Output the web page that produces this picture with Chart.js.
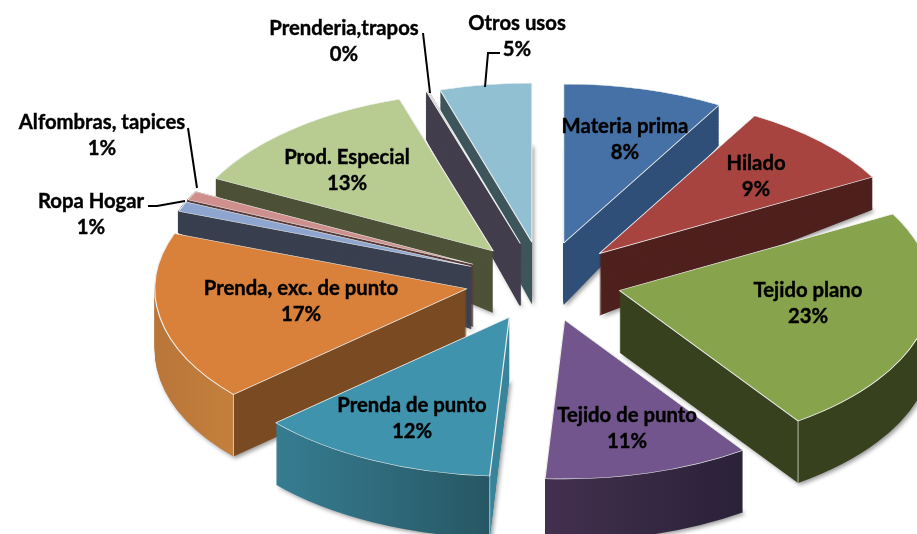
<!DOCTYPE html>
<html>
<head>
<meta charset="utf-8">
<style>body{margin:0;background:#fff}canvas{display:block}</style>
<script src="https://cdn.jsdelivr.net/npm/chart.js@4"></script>
</head>
<body>
<canvas id="pie" width="917" height="534"></canvas>
<script>
var categories = ["Materia prima", "Hilado", "Tejido plano", "Tejido de punto", "Prenda de punto",
    "Prenda, exc. de punto", "Ropa Hogar", "Alfombras, tapices", "Prod. Especial", "Prenderia,trapos", "Otros usos"];
var values = [8.3, 8.7, 23.3, 10.7, 12.45, 17.2, 1, 0.9, 12.6, 0.1, 4.75];
var percentLabels = ["8%", "9%", "23%", "11%", "12%", "17%", "1%", "1%", "13%", "0%", "5%"];

var topColors = ["#4571a6", "#a84440", "#87a34c", "#71558c", "#3f93ad", "#d9803a", "#8ea5cf", "#ce8f8d", "#b8cb91", "#c9c9d0", "#92c0d3"];
var cutColors = ["#2f4f78", "#4f211e", "#37411d", "#43304f", "#38849b", "#7a4a22", "#3a4050", "#5a3c3b", "#4d5238", "#433e4d", "#3d565c"];

// outer wall of the slices that show one: [colour on the left, colour on the right]
var rimColors = {3: ["#43304f", "#2a2138"], 4: ["#367d92", "#275764"], 5: ["#b8763a", "#c47f3c"]};

// back slices tilt their lower face so the wall gets shorter towards the rim
var backShear = [-0.14, -0.107, 0, 0, 0, 0, 0.138, 0.138, 0.16, 0.155, 0.155];

// painter's order, back to front
var drawOrder = [10, 9, 8, 7, 6, 5, 0, 1, 2, 3, 4];

var centerX = 543.5, centerY = 281.5, squash = 0.51, explode = 78, depth = 62, pieRadius = 312;

var labelPos = [[625, 126], [756, 163], [808, 290], [627, 415], [412, 405], [301, 288], [91, 201], [102, 122], [347, 157], [344, 28], [517, 23]];
var leaders = [
    [[500, 53], [488, 53], [485, 87]],
    [[423, 33], [430, 93]],
    [[188, 128], [197, 188]],
    [[148, 206], [157, 206], [185, 201]]
];

function sideFill(ctx, arc, i) {
    var rim = rimColors[i];
    if (!rim && i != 2) return cutColors[i];
    var xStart = arc.x + Math.cos(arc.startAngle) * pieRadius;
    var xEnd = arc.x + Math.cos(arc.endAngle) * pieRadius;
    var g = ctx.createLinearGradient(0, 0, 917, 0);
    function at(x, c) { g.addColorStop(Math.min(1, Math.max(0, x / 917)), c); }
    if (i == 2) {
        at(0, cutColors[2]); at(xEnd - 1, cutColors[2]); at(xEnd, "#b9bfa8"); at(xEnd + 1, cutColors[2]); at(917, cutColors[2]);
    } else if (i == 3) {
        at(xEnd, rim[0]); at(xStart, rim[1]);
    } else if (i == 4) {
        at(xEnd, rim[0]); at(xStart - 1, rim[1]); at(xStart, "#a9c6ce"); at(xStart + 1, cutColors[4]); at(917, cutColors[4]);
    } else if (i == 5) {
        at(arc.x - pieRadius, rim[0]); at(xStart - 1, rim[1]); at(xStart, "#d9c6b2"); at(xStart + 1, cutColors[5]); at(917, cutColors[5]);
    }
    return g;
}

function drawSlice(ctx, arc, i) {
    var mid = (arc.startAngle + arc.endAngle) / 2;
    var apexX = centerX + Math.cos(mid) * explode;
    var apexY = centerY + Math.sin(mid) * explode * squash;
    var opts = arc.options;
    // thin slices leave gaps between the 1px layers near the apex, a border closes them
    var thin = i == 6 || i == 7 || i == 9;
    var sideOpts = Object.assign({}, opts, {
        borderWidth: thin ? 2 : 0,
        borderColor: cutColors[i],
        backgroundColor: sideFill(ctx, arc, i)
    });

    arc.options = sideOpts;
    for (var d = depth; d >= 1; d--) {
        var t = d / depth;
        ctx.save();
        if (d == depth) {
            ctx.shadowColor = "rgba(0,0,0,0.4)";
            ctx.shadowBlur = 4;
            ctx.shadowOffsetX = 2;
            ctx.shadowOffsetY = 2;
        }
        ctx.translate(apexX, apexY + d);
        ctx.transform(1, t * backShear[i], 0, squash, 0, 0);
        ctx.translate(-arc.x, -arc.y);
        arc.draw(ctx);
        ctx.restore();
    }
    arc.options = opts;

    ctx.save();
    ctx.translate(apexX, apexY);
    ctx.scale(1, squash);
    ctx.translate(-arc.x, -arc.y);
    arc.draw(ctx);
    ctx.restore();
}

var pie3d = {
    id: "pie3d",
    beforeDatasetDraw: function(chart, args) {
        var ctx = chart.ctx;
        drawOrder.forEach(function(i) {
            drawSlice(ctx, args.meta.data[i], i);
        });
        return false;
    },
    afterDraw: function(chart) {
        var ctx = chart.ctx;
        ctx.save();
        ctx.strokeStyle = "#000";
        ctx.lineWidth = 2;
        leaders.forEach(function(line) {
            ctx.beginPath();
            line.forEach(function(p, k) {
                if (k == 0) ctx.moveTo(p[0], p[1]); else ctx.lineTo(p[0], p[1]);
            });
            ctx.stroke();
        });
        ctx.fillStyle = "#000";
        ctx.lineWidth = 0.4;
        ctx.font = "bold 20.3px Lato";
        ctx.textAlign = "center";
        ctx.textBaseline = "middle";
        categories.forEach(function(name, i) {
            var x = labelPos[i][0], y = labelPos[i][1];
            ctx.fillText(name, x, y);
            ctx.strokeText(name, x, y);
            ctx.fillText(percentLabels[i], x, y + 26);
            ctx.strokeText(percentLabels[i], x, y + 26);
        });
        ctx.restore();
    }
};

var myChart = new Chart(document.getElementById("pie"), {
    type: "pie",
    data: {
        labels: categories,
        datasets: [{
            data: values,
            backgroundColor: topColors,
            borderColor: "#eef0ee",
            borderWidth: 1.2,
            radius: pieRadius
        }]
    },
    options: {
        responsive: false,
        animation: false,
        events: [],
        plugins: {legend: {display: false}, tooltip: {enabled: false}}
    },
    plugins: [pie3d]
});
</script>
</body>
</html>
